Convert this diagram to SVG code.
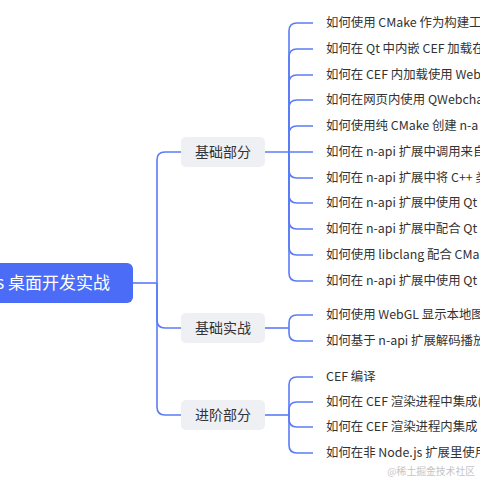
<svg xmlns="http://www.w3.org/2000/svg" width="480" height="480" viewBox="0 0 480 480">
<style>
.ln{fill:none;stroke:#5a7cf6;stroke-width:1.6}
.lf{font-family:"Noto Sans CJK SC","Noto Sans",sans-serif;font-size:12.4px;fill:#333}
.bx{fill:#eff0f3}
.bt{font-family:"Noto Sans CJK SC","Noto Sans",sans-serif;font-size:14px;fill:#333;text-anchor:middle}
</style>
<rect width="480" height="480" fill="#fff"/>
<g id="connectors">
<path class="ln" d="M133,283H157"/>
<path class="ln" d="M157,283V160Q157,152 165,152H181"/>
<path class="ln" d="M157,283V320Q157,328 165,328H181"/>
<path class="ln" d="M157,283V407Q157,415 165,415H181"/>
<path class="ln" d="M265,152H313"/>
<path class="ln" d="M289,152V31Q289,23 297,23H313"/>
<path class="ln" d="M289,152V57Q289,49 297,49H313"/>
<path class="ln" d="M289,152V83Q289,75 297,75H313"/>
<path class="ln" d="M289,152V108Q289,100 297,100H313"/>
<path class="ln" d="M289,152V134Q289,126 297,126H313"/>
<path class="ln" d="M289,152V170Q289,178 297,178H313"/>
<path class="ln" d="M289,152V195Q289,203 297,203H313"/>
<path class="ln" d="M289,152V221Q289,229 297,229H313"/>
<path class="ln" d="M289,152V247Q289,255 297,255H313"/>
<path class="ln" d="M289,152V273Q289,281 297,281H313"/>
<path class="ln" d="M265,328H289"/>
<path class="ln" d="M289,328V323Q289,315 297,315H313"/>
<path class="ln" d="M289,328V333Q289,341 297,341H313"/>
<path class="ln" d="M265,415H289"/>
<path class="ln" d="M289,415V385Q289,377 297,377H313"/>
<path class="ln" d="M289,415V410Q289,402 297,402H313"/>
<path class="ln" d="M289,415V419Q289,427 297,427H313"/>
<path class="ln" d="M289,415V445Q289,453 297,453H313"/>
</g>
<g id="root">
<rect x="-20" y="263" width="153" height="40" rx="6" fill="#4a6cf7"/>
<text x="110" y="289" text-anchor="end" font-family="Noto Sans CJK SC,Noto Sans,sans-serif" font-size="17" fill="#fff">Node.js 桌面开发实战</text>
</g>
<g id="b1"><rect class="bx" x="181" y="137" width="84" height="30" rx="5"/><text class="bt" x="223" y="157">基础部分</text></g>
<g id="b2"><rect class="bx" x="181" y="313" width="84" height="30" rx="5"/><text class="bt" x="223" y="333">基础实战</text></g>
<g id="b3"><rect class="bx" x="181" y="400" width="84" height="30" rx="5"/><text class="bt" x="223" y="420">进阶部分</text></g>
<g id="leaves">
<text class="lf" x="326" y="27">如何使用 CMake 作为构建工</text>
<text class="lf" x="326" y="53">如何在 Qt 中内嵌 CEF 加载在</text>
<text class="lf" x="326" y="79">如何在 CEF 内加载使用 Web</text>
<text class="lf" x="326" y="104">如何在网页内使用 QWebcha</text>
<text class="lf" x="326" y="130">如何使用纯 CMake 创建 n-a</text>
<text class="lf" x="326" y="156">如何在 n-api 扩展中调用来自</text>
<text class="lf" x="326" y="182">如何在 n-api 扩展中将 C++ 类</text>
<text class="lf" x="326" y="207">如何在 n-api 扩展中使用 Qt</text>
<text class="lf" x="326" y="233">如何在 n-api 扩展中配合 Qt</text>
<text class="lf" x="326" y="259">如何使用 libclang 配合 CMa</text>
<text class="lf" x="326" y="285">如何在 n-api 扩展中使用 Qt</text>
<text class="lf" x="326" y="319">如何使用 WebGL 显示本地图</text>
<text class="lf" x="326" y="345">如何基于 n-api 扩展解码播放</text>
<text class="lf" x="326" y="381">CEF 编译</text>
<text class="lf" x="326" y="406">如何在 CEF 渲染进程中集成(</text>
<text class="lf" x="326" y="431">如何在 CEF 渲染进程内集成</text>
<text class="lf" x="326" y="457">如何在非 Node.js 扩展里使用</text>
</g>
<text x="475" y="475" text-anchor="end" font-family="Noto Sans CJK SC,sans-serif" font-size="9.8" fill="#c4c4c4">@稀土掘金技术社区</text>
</svg>
